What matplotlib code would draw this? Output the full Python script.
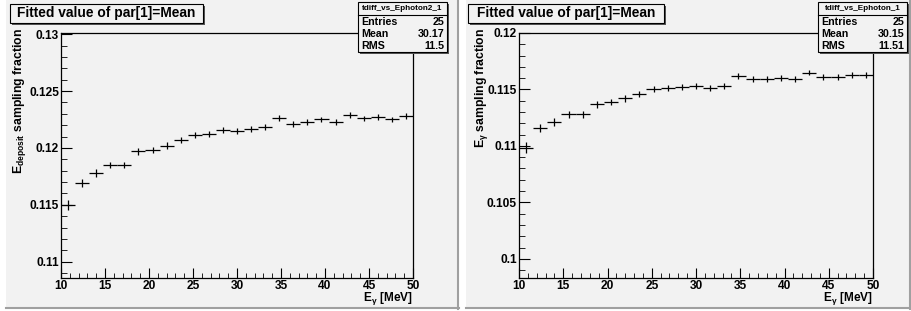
import matplotlib
matplotlib.use("Agg")
import matplotlib.pyplot as plt
from matplotlib.patches import Rectangle
from matplotlib.lines import Line2D
from matplotlib.ticker import FixedLocator, MultipleLocator

plt.rcParams['font.family'] = ['Liberation Sans', 'DejaVu Sans']
plt.rcParams['font.weight'] = 'bold'
plt.rcParams['mathtext.fontset'] = 'custom'
plt.rcParams['mathtext.rm'] = 'Liberation Sans:bold'
plt.rcParams['mathtext.bf'] = 'Liberation Sans:bold'
plt.rcParams['mathtext.it'] = 'Liberation Sans:bold'

# bin centres (25 bins of 1.6 MeV between 10 and 50)
e_gamma = [10.8, 12.4, 14.0, 15.6, 17.2, 18.8, 20.4, 22.0, 23.6, 25.2,
           26.8, 28.4, 30.0, 31.6, 33.2, 34.8, 36.4, 38.0, 39.6, 41.2,
           42.8, 44.4, 46.0, 47.6, 49.2]

frac_deposit = [0.1150, 0.1169, 0.1178, 0.1185, 0.1185, 0.1197, 0.1198, 0.1202,
                0.1207, 0.1211, 0.1212, 0.1216, 0.1215, 0.1217, 0.1218, 0.1226,
                0.1221, 0.1223, 0.1225, 0.1223, 0.1229, 0.1226, 0.1227, 0.1225,
                0.1228]
err_deposit = [0.00042, 0.00036, 0.00033, 0.00030, 0.00030, 0.00030, 0.00028, 0.00028,
               0.00028, 0.00027, 0.00027, 0.00027, 0.00026, 0.00026, 0.00026, 0.00026,
               0.00025, 0.00025, 0.00025, 0.00025, 0.00025, 0.00025, 0.00025, 0.00025,
               0.00025]

frac_gamma = [0.10985, 0.1116, 0.1121, 0.1128, 0.1128, 0.1137, 0.1139, 0.1142,
              0.1146, 0.1150, 0.1151, 0.1152, 0.1153, 0.1151, 0.1153, 0.1162,
              0.1159, 0.1159, 0.1160, 0.1159, 0.1165, 0.1161, 0.1161, 0.1163,
              0.1163]
err_gamma = [0.00047, 0.00036, 0.00033, 0.00030, 0.00030, 0.00030, 0.00028, 0.00028,
             0.00028, 0.00027, 0.00027, 0.00027, 0.00026, 0.00026, 0.00026, 0.00026,
             0.00025, 0.00025, 0.00025, 0.00025, 0.00025, 0.00025, 0.00025, 0.00025,
             0.00025]

yticks_left = [0.11, 0.115, 0.12, 0.125, 0.13]
ylabels_left = ['0.11', '0.115', '0.12', '0.125', '0.13']
yticks_right = [0.1, 0.105, 0.11, 0.115, 0.12]
ylabels_right = ['0.1', '0.105', '0.11', '0.115', '0.12']

stats_left = ('tdiff_vs_Ephoton2_1', [('Entries', '25'), ('Mean', '30.17'), ('RMS', '11.5')])
stats_right = ('tdiff_vs_Ephoton_1', [('Entries', '25'), ('Mean', '30.15'), ('RMS', '11.51')])

W, H = 911, 311
PAD = '#f2f2f2'
fig = plt.figure(figsize=(W / 100, H / 100), dpi=100)
fig.patch.set_facecolor('white')


def fx(x):
    return x / W


def fy(y):
    return 1 - y / H


def box(x0, y0, x1, y1, lw=0.8, shadow=2, fill=PAD):
    # ROOT style box with a dark drop shadow
    fig.patches.append(Rectangle((fx(x0 + shadow), fy(y1 + shadow)), fx(x1 - x0), (y1 - y0) / H,
                                 transform=fig.transFigure, facecolor='#555555',
                                 edgecolor='none', zorder=5))
    fig.patches.append(Rectangle((fx(x0), fy(y1)), fx(x1 - x0), (y1 - y0) / H,
                                 transform=fig.transFigure, facecolor=fill,
                                 edgecolor='black', lw=lw, zorder=6))


def pad(x0, x1, y0=0, y1=309):
    fig.patches.append(Rectangle((fx(x0), fy(y1)), fx(x1 - x0), (y1 - y0) / H,
                                 transform=fig.transFigure, facecolor=PAD,
                                 edgecolor='none', zorder=-2))
    fig.lines.append(Line2D([fx(x1 - 1), fx(x1 - 1)], [fy(y1), fy(y0)],
                            transform=fig.transFigure, color='#a0a0a0', lw=1.5, zorder=-1))
    fig.lines.append(Line2D([fx(x0), fx(x1)], [fy(y1 - 1), fy(y1 - 1)],
                            transform=fig.transFigure, color='#a0a0a0', lw=1.5, zorder=-1))


def panel(rect, vals, errs, ylim, yt, ytl, ylab, ylab_x, stats, stats_x, title_x1):
    ax = fig.add_axes(rect)
    ax.set_facecolor(PAD)
    ax.errorbar(e_gamma, vals, xerr=0.8, yerr=errs, fmt='none', ecolor='black',
                elinewidth=0.9, capsize=0)
    ax.set_xlim(10, 50)
    ax.set_ylim(*ylim)
    ax.xaxis.set_major_locator(MultipleLocator(5))
    ax.xaxis.set_minor_locator(MultipleLocator(1))
    ax.yaxis.set_major_locator(FixedLocator(yt))
    ax.set_yticklabels(ytl)
    ax.yaxis.set_minor_locator(MultipleLocator(0.001))
    ax.tick_params(which='both', direction='in', top=False, right=False,
                   labelsize=8.6, pad=1.5)
    ax.tick_params(axis='x', which='major', length=7)
    ax.tick_params(axis='x', which='minor', length=3.5)
    ax.tick_params(axis='y', which='major', length=8)
    ax.tick_params(axis='y', which='minor', length=4)
    for lab in ax.get_xticklabels() + ax.get_yticklabels():
        lab.set_fontweight('bold')
    for sp in ax.spines.values():
        sp.set_linewidth(0.9)
    ax.text(1.0, -0.085, r'$\mathrm{E}_{\gamma}$ [MeV]', transform=ax.transAxes,
            ha='right', va='center', fontsize=8.6, fontweight='bold')
    ax.text(ylab_x, 1.02, ylab, transform=ax.transAxes, rotation=90,
            ha='center', va='top', fontsize=8.8, fontweight='bold')

    # title box
    x0 = rect[0] * W - 51
    box(x0, 4, title_x1, 22.5)
    fig.text(fx((x0 + title_x1) / 2), fy(13.5), 'Fitted value of par[1]=Mean',
             ha='center', va='center', fontsize=9.9, fontweight='bold', zorder=7)

    # stats box
    sx0, sx1 = stats_x
    name, rows = stats
    box(sx0, 2, sx1, 52, lw=0.8, shadow=1.5)
    fig.lines.append(Line2D([fx(sx0), fx(sx1)], [fy(15), fy(15)],
                            transform=fig.transFigure, color='black', lw=0.8, zorder=7))
    fig.text(fx((sx0 + sx1) / 2), fy(8.5), name, ha='center', va='center',
             fontsize=5.9, fontweight='bold', zorder=7)
    for i, (k, v) in enumerate(rows):
        yy = fy(22 + 12 * i)
        fig.text(fx(sx0 + 3), yy, k, ha='left', va='center', fontsize=7.7,
                 fontweight='bold', zorder=7)
        fig.text(fx(sx1 - 3), yy, v, ha='right', va='center', fontsize=7.7,
                 fontweight='bold', zorder=7)
    return ax


pad(6, 459)
pad(466, 911)

panel([61 / W, (H - 278) / H, 352 / W, 245 / H], frac_deposit, err_deposit,
      (0.10857, 0.13010), yticks_left, ylabels_left,
      r'$\mathrm{E}_{\mathrm{deposit}}$ sampling fraction', -0.118,
      stats_left, (358, 447), 203)
panel([519 / W, (H - 278) / H, 354 / W, 245 / H], frac_gamma, err_gamma,
      (0.0983, 0.1200), yticks_right, ylabels_right,
      r'$\mathrm{E}_{\gamma}$ sampling fraction', -0.107,
      stats_right, (818, 907), 664)

fig.savefig('out.png', dpi=100)
